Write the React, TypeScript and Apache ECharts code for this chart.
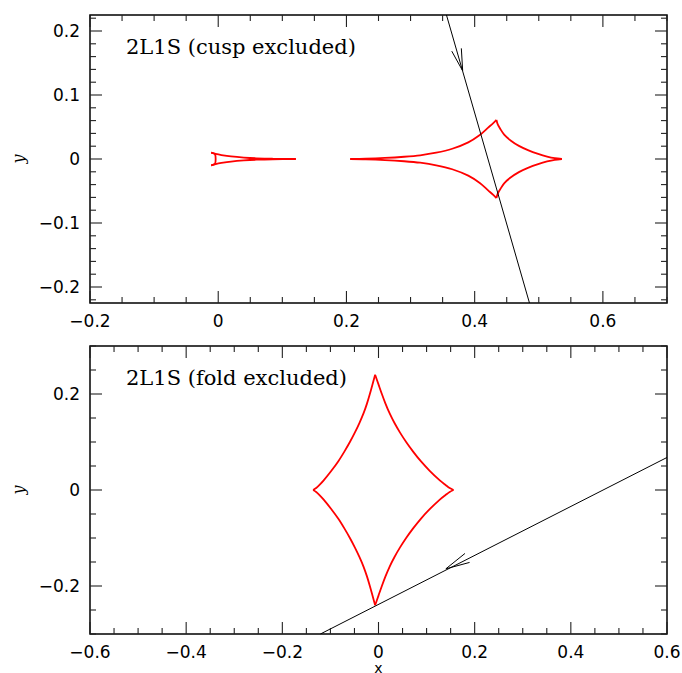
import React, { useEffect, useRef } from 'react';
import * as echarts from 'echarts';

// ---------- axis setup ----------
const topXRange = [-0.2, 0.7];
const topYRange = [-0.225, 0.225];
const topXLabels = [-0.2, 0, 0.2, 0.4, 0.6];
const topYLabels = [-0.2, -0.1, 0, 0.1, 0.2];
const topXMinorStep = 0.05;
const topYMinorStep = 0.02;

const botXRange = [-0.6, 0.6];
const botYRange = [-0.3, 0.3];
const botXLabels = [-0.6, -0.4, -0.2, 0, 0.2, 0.4, 0.6];
const botYLabels = [-0.2, 0, 0.2];
const botXMinorStep = 0.05;
const botYMinorStep = 0.05;

const topTitle = '2L1S (cusp excluded)';
const botTitle = '2L1S (fold excluded)';

// ---------- top panel: caustics ----------
const topCentralUpper = [[-0.011, 0.010], [-0.004, 0.0080], [0.005, 0.0062], [0.02, 0.0040], [0.04, 0.0022], [0.06, 0.0011], [0.085, 0.0004], [0.121, 0]];
const topCentralLower = [[-0.011, -0.010], [-0.004, -0.0080], [0.005, -0.0062], [0.02, -0.0040], [0.04, -0.0022], [0.06, -0.0011], [0.085, -0.0004], [0.121, 0]];
const topCentralLeft = [[-0.011, 0.010], [-0.005, 0.0075], [-0.004, 0], [-0.005, -0.0075], [-0.011, -0.010]];

const topPlanUL = [[0.206, 0], [0.23, 0.0004], [0.26, 0.0016], [0.29, 0.0035], [0.315, 0.0058], [0.34, 0.0098], [0.365, 0.016], [0.39, 0.026], [0.408, 0.0375], [0.421, 0.049], [0.429, 0.056], [0.434, 0.061]];
const topPlanUR = [[0.434, 0.061], [0.436, 0.054], [0.440, 0.047], [0.446, 0.038], [0.456, 0.029], [0.469, 0.0205], [0.484, 0.0135], [0.499, 0.008], [0.513, 0.0038], [0.525, 0.0012], [0.536, 0]];
const topPlanLL = [[0.206, 0], [0.23, -0.0004], [0.26, -0.0016], [0.29, -0.0035], [0.315, -0.0058], [0.34, -0.0098], [0.365, -0.016], [0.39, -0.026], [0.408, -0.0375], [0.421, -0.049], [0.429, -0.056], [0.434, -0.061]];
const topPlanLR = [[0.434, -0.061], [0.436, -0.054], [0.440, -0.047], [0.446, -0.038], [0.456, -0.029], [0.469, -0.0205], [0.484, -0.0135], [0.499, -0.008], [0.513, -0.0038], [0.525, -0.0012], [0.536, 0]];

const topTrajectory = [[0.356, 0.225], [0.4855, -0.225]];
const topArrow = [[0.3643, 0.1685], [0.3813, 0.1377], [0.3792, 0.1729]];

// ---------- bottom panel ----------
const botUR = [[-0.007, 0.24], [0.0, 0.22], [0.007, 0.2], [0.0145, 0.18], [0.023, 0.16], [0.033, 0.14], [0.0445, 0.12], [0.0575, 0.1], [0.072, 0.08], [0.088, 0.06], [0.1065, 0.04], [0.1275, 0.02], [0.14, 0.01], [0.148, 0.004], [0.156, 0]];
const botUL = [[-0.007, 0.24], [-0.0125, 0.22], [-0.018, 0.2], [-0.024, 0.18], [-0.031, 0.16], [-0.0395, 0.14], [-0.049, 0.12], [-0.0595, 0.1], [-0.071, 0.08], [-0.0835, 0.06], [-0.098, 0.04], [-0.114, 0.02], [-0.1232, 0.01], [-0.1296, 0.004], [-0.136, 0]];
const botLR = [[-0.007, -0.24], [0.0, -0.22], [0.007, -0.2], [0.0145, -0.18], [0.023, -0.16], [0.033, -0.14], [0.0445, -0.12], [0.0575, -0.1], [0.072, -0.08], [0.088, -0.06], [0.1065, -0.04], [0.1275, -0.02], [0.14, -0.01], [0.148, -0.004], [0.156, 0]];
const botLL = [[-0.007, -0.24], [-0.0125, -0.22], [-0.018, -0.2], [-0.024, -0.18], [-0.031, -0.16], [-0.0395, -0.14], [-0.049, -0.12], [-0.0595, -0.1], [-0.071, -0.08], [-0.0835, -0.06], [-0.098, -0.04], [-0.114, -0.02], [-0.1232, -0.01], [-0.1296, -0.004], [-0.136, 0]];

const botTrajectory = [[-0.1208, -0.3], [0.6, 0.0678]];
const botArrow = [[0.1894, -0.1509], [0.1401, -0.1642], [0.1798, -0.1322]];

// ---------- helpers ----------
const near = (a: number, b: number) => Math.abs(a - b) < 1e-7;

const fmtFor = (labels: number[]) => (v: number) => {
  const hit = labels.find((l) => near(l, v));
  if (hit === undefined) return '';
  if (hit === 0) return '0';
  return hit < 0 ? '\u2212' + String(-hit) : String(hit);
};

function minorTicks(range: number[], step: number, majors: number[]) {
  const out: number[] = [];
  const k0 = Math.ceil(range[0] / step - 1e-9);
  const k1 = Math.floor(range[1] / step + 1e-9);
  for (let k = k0; k <= k1; k++) {
    const v = Math.round(k * step * 1e6) / 1e6;
    if (!majors.some((m) => near(m, v))) out.push(v);
  }
  return out;
}

function tickSeries(idx: number, xMaj: number[], xMin: number[], yMaj: number[], yMin: number[]) {
  const data: number[][] = [];
  xMaj.forEach((v) => data.push([v, 0, 1, 0]));
  xMin.forEach((v) => data.push([v, 0, 0, 0]));
  yMaj.forEach((v) => data.push([0, v, 1, 1]));
  yMin.forEach((v) => data.push([0, v, 0, 1]));
  return {
    type: 'custom',
    xAxisIndex: idx,
    yAxisIndex: idx,
    silent: true,
    clip: false,
    z: 5,
    encode: { x: 0, y: 1 },
    data,
    renderItem: (params: any, api: any) => {
      const cs = params.coordSys;
      const major = api.value(2);
      const dim = api.value(3);
      const len = major ? 12 : 6;
      const p = api.coord([api.value(0), api.value(1)]);
      const style = { stroke: '#222', lineWidth: 1.1 };
      if (dim === 0) {
        const x = p[0];
        const yb = cs.y + cs.height;
        return {
          type: 'group',
          children: [
            { type: 'line', shape: { x1: x, y1: yb, x2: x, y2: yb - len }, style },
            { type: 'line', shape: { x1: x, y1: cs.y, x2: x, y2: cs.y + len }, style },
          ],
        };
      }
      const y = p[1];
      const xr = cs.x + cs.width;
      return {
        type: 'group',
        children: [
          { type: 'line', shape: { x1: cs.x, y1: y, x2: cs.x + len, y2: y }, style },
          { type: 'line', shape: { x1: xr, y1: y, x2: xr - len, y2: y }, style },
        ],
      };
    },
  };
}

const labelStyle = { color: '#000', fontFamily: 'DejaVu Sans', fontSize: 17 };

function curve(idx: number, data: number[][], color: string, width: number, smooth: number | boolean) {
  return {
    type: 'line',
    xAxisIndex: idx,
    yAxisIndex: idx,
    data,
    symbol: 'none',
    showSymbol: false,
    smooth,
    clip: true,
    silent: true,
    z: 3,
    lineStyle: { color, width },
  };
}

export default function App() {
  const ref = useRef<HTMLDivElement>(null);
  useEffect(() => {
    if (!ref.current) return;
    const chart = echarts.init(ref.current, undefined, { renderer: 'svg' });
    const red = '#ff0000';
    const option: any = {
      animation: false,
      backgroundColor: '#fff',
      grid: [
        { left: 90, top: 15, width: 577, height: 288, show: true, borderColor: '#000', borderWidth: 1.5, backgroundColor: 'transparent', containLabel: false, outerBoundsMode: 'none' },
        { left: 90, top: 346, width: 577, height: 288, show: true, borderColor: '#000', borderWidth: 1.5, backgroundColor: 'transparent', containLabel: false, outerBoundsMode: 'none' },
      ],
      xAxis: [
        {
          type: 'value', gridIndex: 0, min: topXRange[0], max: topXRange[1], interval: 0.2,
          axisLine: { show: false }, axisTick: { show: false }, splitLine: { show: false },
          axisLabel: { ...labelStyle, margin: 9, formatter: fmtFor(topXLabels) },
        },
        {
          type: 'value', gridIndex: 1, min: botXRange[0], max: botXRange[1], interval: 0.2,
          axisLine: { show: false }, axisTick: { show: false }, splitLine: { show: false },
          axisLabel: { ...labelStyle, margin: 9, formatter: fmtFor(botXLabels) },
          name: 'x', nameLocation: 'middle', nameGap: 21,
          nameTextStyle: { color: '#000', fontFamily: 'DejaVu Sans', fontSize: 14 },
        },
      ],
      yAxis: [
        {
          type: 'value', gridIndex: 0, min: topYRange[0], max: topYRange[1], interval: 0.025,
          axisLine: { show: false }, axisTick: { show: false }, splitLine: { show: false },
          axisLabel: { ...labelStyle, margin: 10, formatter: fmtFor(topYLabels) },
          name: 'y', nameLocation: 'middle', nameGap: 64,
          nameTextStyle: { color: '#000', fontFamily: 'DejaVu Serif', fontStyle: 'italic', fontSize: 16 },
        },
        {
          type: 'value', gridIndex: 1, min: botYRange[0], max: botYRange[1], interval: 0.1,
          axisLine: { show: false }, axisTick: { show: false }, splitLine: { show: false },
          axisLabel: { ...labelStyle, margin: 10, formatter: fmtFor(botYLabels) },
          name: 'y', nameLocation: 'middle', nameGap: 64,
          nameTextStyle: { color: '#000', fontFamily: 'DejaVu Serif', fontStyle: 'italic', fontSize: 16 },
        },
      ],
      graphic: [
        { type: 'text', x: 126, y: 47, style: { text: topTitle, font: '21px "DejaVu Serif"', fill: '#000', verticalAlign: 'middle' } },
        { type: 'text', x: 126, y: 378, style: { text: botTitle, font: '21px "DejaVu Serif"', fill: '#000', verticalAlign: 'middle' } },
      ],
      series: [
        tickSeries(0, topXLabels, minorTicks(topXRange, topXMinorStep, topXLabels), topYLabels, minorTicks(topYRange, topYMinorStep, topYLabels)),
        tickSeries(1, botXLabels, minorTicks(botXRange, botXMinorStep, botXLabels), botYLabels, minorTicks(botYRange, botYMinorStep, botYLabels)),
        curve(0, topCentralUpper, red, 1.8, 0.3),
        curve(0, topCentralLower, red, 1.8, 0.3),
        curve(0, topCentralLeft, red, 1.8, 0.3),
        curve(0, topPlanUL, red, 1.8, 0.3),
        curve(0, topPlanUR, red, 1.8, 0.3),
        curve(0, topPlanLL, red, 1.8, 0.3),
        curve(0, topPlanLR, red, 1.8, 0.3),
        curve(0, topTrajectory, '#000', 1, false),
        curve(0, topArrow, '#000', 1, false),
        curve(1, botUR, red, 1.8, 0.3),
        curve(1, botUL, red, 1.8, 0.3),
        curve(1, botLR, red, 1.8, 0.3),
        curve(1, botLL, red, 1.8, 0.3),
        curve(1, botTrajectory, '#000', 1, false),
        curve(1, botArrow, '#000', 1, false),
      ],
    };
    chart.setOption(option);
    return () => chart.dispose();
  }, []);
  return <div ref={ref} style={{ position: 'fixed', left: 0, top: 0, width: 682, height: 673 }} />;
}
